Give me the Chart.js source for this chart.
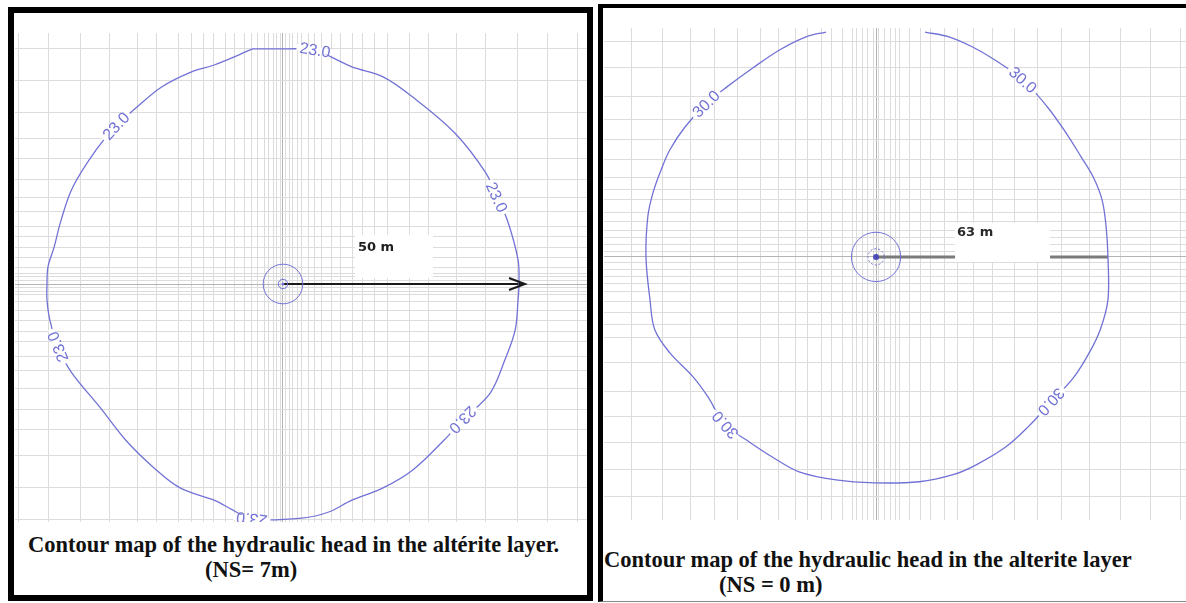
<!DOCTYPE html>
<html>
<head>
<meta charset="utf-8">
<script src="https://cdn.jsdelivr.net/npm/chart.js@4.4.0/dist/chart.umd.min.js"></script>
<style>
  body { margin: 0; width: 1186px; height: 603px; background: #fff; position: relative; overflow: hidden; }
  .frame { position: absolute; box-sizing: border-box; }
  #frameL { left: 8px; top: 7px; width: 585px; height: 594px; border: 6px solid #000; }
  #frameR { left: 598px; top: 4px; width: 600px; height: 598px; border-left: 5px solid #000; border-top: 4px solid #000; border-bottom: 1px solid #888; }
  canvas { position: absolute; }
  #mapL { left: 15px; top: 33px; }
  #mapR { left: 604px; top: 28px; }
  .cap { position: absolute; font-family: "Liberation Serif", "Times New Roman", serif; font-weight: bold; font-size: 22.5px; line-height: 1; white-space: nowrap; color: #111; }
</style>
</head>
<body>
<div class="frame" id="frameL"></div>
<div class="frame" id="frameR"></div>
<canvas id="mapL" width="572" height="489"></canvas>
<canvas id="mapR" width="582" height="492"></canvas>
<div class="cap" style="left:28px; top:534px;">Contour map of the hydraulic head in the altérite layer.</div>
<div class="cap" style="left:205px; top:559px;">(NS= 7m)</div>
<div class="cap" style="left:604px; top:549px;">Contour map of the hydraulic head in the alterite layer</div>
<div class="cap" style="left:719px; top:574px;">(NS = 0 m)</div>
<script>
// head contour around the well, metres from the well (x east, y north), clockwise
const leftLevel = 23.0;
const leftHeadX = [-6.4, -1.7, 6.8, 10.6, 14.6, 21.2, 27.5, 36.4, 43.0, 45.3, 47.5, 49.8, 50.0, 49.8, 49.2, 47.0,
  43.9, 38.1, 34.1, 27.5, 21.2, 14.6, 9.7, 4.0, -6.6, -10.6, -14.6, -21.8, -27.5, -33.3, -38.8, -44.9,
  -47.7, -49.4, -50.0, -50.0, -49.8, -48.5, -47.0, -44.5, -39.6, -35.4, -31.6, -25.8, -19.5, -14.6];
const leftHeadY = [49.8, 49.8, 49.6, 47.9, 46.0, 43.9, 39.6, 32.0, 23.5, 18.4, 13.6, 5.1, 0, -3.4, -9.7, -16.1,
  -23.1, -28.8, -33.1, -39.4, -43.2, -45.8, -48.3, -49.6, -49.8, -47.9, -45.8, -43.2, -38.8, -33.1, -26.1, -18.6,
  -13.3, -7.6, -3.4, 0, 3.6, 7.8, 13.6, 20.6, 28.4, 33.5, 36.9, 41.7, 44.9, 46.4];
const leftLabelAt = [2, 9, 17, 24, 32, 41];
const leftRings = [1.0, 4.2];
const leftBar = 50;

const rightLevel = 30.0;
const rightHeadX = [13.3, 19.8, 26.1, 32.3, 39.9, 46.5, 51.6, 55.7, 59.0, 61.4, 62.5, 63.0, 63.0, 60.9, 57.9,
  53.8, 47.6, 41.3, 35.3, 27.2, 20.9, 11.7, -0.5, -10.9, -20.9, -28.3, -35.3, -41.0, -45.7, -49.7, -56.0,
  -60.1, -61.4, -62.5, -62.0, -60.6, -58.4, -56.0, -51.9, -46.2, -40.5, -33.4, -26.1, -19.0, -13.6];
const rightHeadY = [61.1, 59.8, 57.1, 53.5, 48.1, 40.8, 33.7, 27.2, 21.7, 15.5, 8.2, 0, -11.7, -19.8, -26.1,
  -32.6, -39.4, -46.2, -51.6, -56.5, -59.2, -61.1, -61.4, -60.6, -58.4, -54.3, -49.7, -45.7, -38.0, -32.6, -26.1,
  -19.8, -11.7, 0, 10.9, 17.4, 23.6, 29.1, 35.3, 41.6, 46.2, 51.4, 56.3, 59.8, 61.1];
const rightLabelAt = [4, 16, 27, 39];
const rightRings = [2.2, 6.7];
const rightBar = 63;

// model grid lines, metres from the well
const leftGridX = [0, 0.6, 1.3, 2.1, 3.0, 4.0, 5.3, 6.6, 8.1, 10.2, 12.1, 14.8, 16.9, 19.3, 22.2, 26.7, 30.9, 36.7, 43.0, 49.6, 56.1, 62.3];
const leftGridY = [0, 0.8, 1.5, 2.3, 3.6, 5.7, 7.8, 10.0, 12.1, 15.3, 18.4, 22.2, 26.5, 30.9, 36.4, 43.2, 49.8];
const rightGridX = [0, 0.8, 2.2, 3.8, 5.2, 6.5, 9.2, 12.0, 14.7, 18.5, 22.0, 26.6, 31.5, 37.5, 43.8, 50.5, 57.9, 66.3, 74.5, 82.6];
const rightGridY = [58.4, 51.4, 43.5, 37.2, 31.8, 26.4, 21.7, 18.2, 15.5, 12.0, 9.5, 7.3, 5.4, 3.3, 1.4, 0,
  -1.4, -3.3, -5.4, -7.3, -9.5, -12.0, -15.2, -18.5, -22.0, -28.8, -36.7, -43.5, -50.5, -57.9, -65.2];

const headColor = '#7272d6';
const mirror = l => l.slice(1).map(v => -v).reverse().concat(l);

// level labels written into the contour line
const headLabels = {
  id: 'headLabels',
  afterDatasetsDraw(chart, args, o) {
    const { ctx, chartArea: a, scales: { x, y } } = chart;
    const pts = chart.data.datasets[0].data;
    const n = o.closed ? pts.length - 1 : pts.length;
    const px = i => x.getPixelForValue(pts[(i + n) % n].x);
    const py = i => y.getPixelForValue(pts[(i + n) % n].y);
    ctx.save();
    ctx.beginPath();
    ctx.rect(a.left, a.top, a.right - a.left, a.bottom - a.top);
    ctx.clip();
    ctx.font = '16px "Liberation Sans", Arial, sans-serif';
    ctx.textAlign = 'center';
    ctx.textBaseline = 'middle';
    o.at.forEach(i => {
      const ang = Math.atan2(py(i + 1) - py(i - 1), px(i + 1) - px(i - 1));
      const w = ctx.measureText(o.text).width;
      ctx.save();
      ctx.translate(px(i), py(i));
      ctx.rotate(ang);
      ctx.fillStyle = '#fff';
      ctx.fillRect(-w / 2 - 3, -3, w + 6, 6);
      ctx.fillStyle = headColor;
      ctx.fillText(o.text, 0, 1);
      ctx.restore();
    });
    ctx.restore();
  }
};

// well rings, arrow head and the distance label
const wellMarks = {
  id: 'wellMarks',
  afterDatasetsDraw(chart, args, o) {
    const { ctx, scales: { x, y } } = chart;
    const cx = x.getPixelForValue(0), cy = y.getPixelForValue(0);
    const k = x.getPixelForValue(1) - cx;
    ctx.save();
    ctx.strokeStyle = headColor;
    ctx.lineWidth = 1;
    o.rings.forEach((r, i) => {
      ctx.setLineDash(o.dashed && i === 0 ? [2, 2] : []);
      ctx.beginPath();
      ctx.arc(cx, cy, r * k, 0, Math.PI * 2);
      ctx.stroke();
    });
    ctx.setLineDash([]);
    ctx.fillStyle = o.dotColor;
    ctx.beginPath();
    ctx.arc(cx, cy, o.dot, 0, Math.PI * 2);
    ctx.fill();
    const ex = x.getPixelForValue(o.bar);
    if (o.arrow) {
      ctx.strokeStyle = '#1a1a1a';
      ctx.lineWidth = 2;
      ctx.beginPath();
      ctx.moveTo(ex - 10, cy - 6);
      ctx.lineTo(ex + 6, cy);
      ctx.lineTo(ex - 10, cy + 6);
      ctx.moveTo(ex, cy);
      ctx.lineTo(ex + 6, cy);
      ctx.stroke();
    }
    const [b0, b1, b2, b3] = o.box;
    ctx.fillStyle = '#fff';
    ctx.fillRect(cx + b0, cy + b1, b2 - b0, b3 - b1);
    ctx.fillStyle = o.textColor;
    ctx.font = 'bold 13px "DejaVu Sans", sans-serif';
    ctx.textAlign = 'left';
    ctx.textBaseline = 'middle';
    ctx.fillText(o.bar + ' m', cx + o.textAt[0], cy + o.textAt[1]);
    ctx.restore();
  }
};

function axis(min, max, ticks) {
  return {
    type: 'linear', min, max,
    afterBuildTicks: s => { s.ticks = ticks.filter(v => v >= min && v <= max).map(v => ({ value: v })); },
    ticks: { display: false },
    border: { display: false },
    grid: { drawTicks: false, tickLength: 0, lineWidth: 1, color: c => (c.tick && c.tick.value === 0) ? '#b4b4b4' : '#dcdcdc' }
  };
}

function makeMap(id, m) {
  const pts = m.hx.map((v, i) => ({ x: v, y: m.hy[i] }));
  if (m.closed) pts.push({ ...pts[0] });
  return new Chart(document.getElementById(id), {
    type: 'scatter',
    data: {
      datasets: [
        { data: pts, showLine: true, borderColor: headColor, borderWidth: 1.3, pointRadius: 0, tension: 0.35, fill: false },
        { data: [{ x: 0, y: 0 }, { x: m.bar, y: 0 }], showLine: true, borderColor: m.barColor, borderWidth: m.barWidth, pointRadius: 0 }
      ]
    },
    options: {
      responsive: false,
      animation: false,
      events: [],
      layout: { padding: 0 },
      scales: { x: axis(m.xr[0], m.xr[1], m.gx), y: axis(m.yr[0], m.yr[1], m.gy) },
      plugins: {
        legend: { display: false },
        tooltip: { enabled: false },
        headLabels: { at: m.labelAt, text: m.level.toFixed(1), closed: m.closed },
        wellMarks: m.marks
      }
    },
    plugins: [headLabels, wellMarks]
  });
}

makeMap('mapL', {
  hx: leftHeadX, hy: leftHeadY, closed: true, level: leftLevel, labelAt: leftLabelAt,
  bar: leftBar, barColor: '#1a1a1a', barWidth: 2,
  xr: [-56.78, 64.41], yr: [-50.42, 53.18],
  gx: mirror(leftGridX), gy: mirror(leftGridY),
  marks: { rings: leftRings, dashed: false, dot: 1.5, dotColor: headColor, bar: leftBar, arrow: true,
           box: [72, -49, 150, -6], textAt: [75, -36], textColor: '#1e1e1e' }
});

makeMap('mapR', {
  hx: rightHeadX, hy: rightHeadY, closed: false, level: rightLevel, labelAt: rightLabelAt,
  bar: rightBar, barColor: '#7a7a7a', barWidth: 3,
  xr: [-73.9, 84.2], yr: [-71.5, 62.2],
  gx: mirror(rightGridX), gy: rightGridY,
  marks: { rings: rightRings, dashed: true, dot: 3, dotColor: '#4a4ab8', bar: rightBar, arrow: false,
           box: [79, -34, 174, 5], textAt: [81, -24], textColor: '#2a2a2a' }
});
</script>
</body>
</html>
